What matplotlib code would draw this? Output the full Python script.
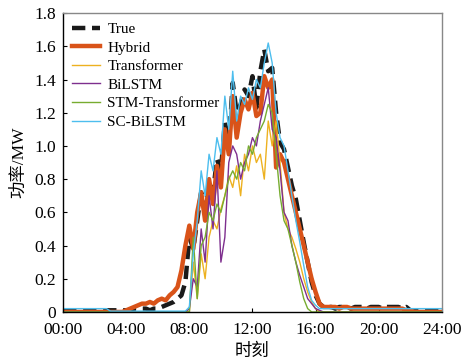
import numpy as np
import matplotlib
matplotlib.use("Agg")
import matplotlib.pyplot as plt

plt.rcParams['font.family'] = ['Liberation Serif', 'Noto Sans CJK SC']

# 15-min samples, 00:00 .. 24:00 (97 points)
hours = np.arange(97) * 0.25

true_vals = [0.01]*16 + [0.01, 0.01, 0.02, 0.02, 0.02, 0.02, 0.01, 0.02,
             0.02, 0.03, 0.04, 0.05, 0.06, 0.08, 0.10, 0.18,
             0.45, 0.38, 0.55, 0.72, 0.62, 0.78, 0.72, 0.92, 0.85, 1.14, 1.00, 1.38,
             1.20, 1.25, 1.34, 1.30, 1.42, 1.23, 1.45, 1.58, 1.45, 1.47, 1.20, 1.02,
             0.98, 0.87, 0.76, 0.68, 0.55, 0.42, 0.30, 0.18, 0.10, 0.05, 0.03,
             0.03, 0.03, 0.02, 0.03, 0.03, 0.03, 0.02, 0.03, 0.03, 0.03, 0.02,
             0.03, 0.03, 0.03, 0.02, 0.03, 0.03, 0.03, 0.03, 0.02, 0.03,
             0.01, 0.01, 0.01, 0.01, 0.01, 0.01, 0.01, 0.01, 0.01]

hybrid = [0.0]*16 + [0.01, 0.02, 0.03, 0.04, 0.05, 0.05, 0.06, 0.05,
          0.07, 0.08, 0.07, 0.10, 0.12, 0.15, 0.25, 0.40,
          0.52, 0.38, 0.60, 0.72, 0.55, 0.80, 0.65, 0.88, 0.75, 1.10, 0.95, 1.30,
          1.05, 1.20, 1.28, 1.22, 1.32, 1.18, 1.20, 1.42, 1.35, 1.40, 0.87, 0.95,
          0.90, 0.80, 0.70, 0.60, 0.50, 0.40, 0.30, 0.20, 0.12, 0.05, 0.03,
          0.03, 0.03, 0.03, 0.02, 0.03, 0.03, 0.02, 0.02, 0.02, 0.02, 0.02,
          0.02, 0.02, 0.02, 0.02, 0.02, 0.02, 0.02, 0.02, 0.02, 0.01,
          0.01, 0.0, 0.0, 0.0, 0.0, 0.0, 0.0, 0.0, 0.0]

transformer = [0.0]*32 + [0.0, 0.30, 0.08, 0.35, 0.20, 0.45, 0.55, 0.50, 0.62, 0.70, 0.82, 0.75,
               0.88, 0.70, 0.95, 0.85, 1.00, 0.90, 0.95, 0.80, 1.15, 1.00, 1.15, 0.90,
               0.60, 0.50, 0.45, 0.38, 0.30, 0.20, 0.12, 0.06, 0.02] + [0.0]*32

bilstm = [0.0]*32 + [0.02, 0.20, 0.15, 0.50, 0.30, 0.70, 0.50, 0.85, 0.30, 0.45, 0.90, 1.00,
          0.95, 0.80, 0.90, 0.95, 1.05, 1.00, 1.15, 1.25, 1.35, 1.10, 1.05, 0.85,
          0.60, 0.55, 0.40, 0.30, 0.22, 0.15, 0.08, 0.05, 0.02, 0.01] + [0.0]*31

stm_transformer = [0.0]*32 + [0.0, 0.45, 0.08, 0.40, 0.45, 0.60, 0.55, 0.65, 0.60, 0.70, 0.80, 0.85,
                   0.80, 0.90, 0.85, 1.00, 0.95, 1.05, 1.10, 1.15, 1.25, 1.20, 0.95, 0.70,
                   0.55, 0.50, 0.40, 0.30, 0.18, 0.08, 0.02] + [0.0]*34

sc_bilstm = [0.02]*12 + [0.005]*20 + [0.03, 0.35, 0.55, 0.85, 0.70, 0.95, 0.85, 1.05, 0.95, 1.30, 1.10, 1.45,
             1.15, 1.30, 1.25, 1.35, 1.28, 1.40, 1.35, 1.50, 1.62, 1.50, 1.20, 1.05,
             1.00, 0.85, 0.70, 0.55, 0.42, 0.28, 0.15, 0.07, 0.04] + [0.02]*32

fig = plt.figure(figsize=(4.71, 3.64), dpi=100)
ax = fig.add_axes([0.134, 0.143, 0.804, 0.821])

ax.plot(hours, true_vals, color='#1a1a1a', lw=3.2, ls=(0, (3, 1.5)), label='True')
ax.plot(hours, hybrid, color='#D95319', lw=3.2, label='Hybrid')
ax.plot(hours, transformer, color='#EDB120', lw=1.0, label='Transformer')
ax.plot(hours, bilstm, color='#7E2F8E', lw=1.0, label='BiLSTM')
ax.plot(hours, stm_transformer, color='#77AC30', lw=1.0, label='STM-Transformer')
ax.plot(hours, sc_bilstm, color='#4DBEEE', lw=1.0, label='SC-BiLSTM')

ax.set_xlim(0, 24)
ax.set_ylim(0, 1.8)
ax.set_xticks(np.arange(0, 25, 4))
ax.set_xticklabels(['00:00', '04:00', '08:00', '12:00', '16:00', '20:00', '24:00'])
ax.set_yticks(np.arange(0, 1.81, 0.2))
ax.set_yticklabels(['0', '0.2', '0.4', '0.6', '0.8', '1.0', '1.2', '1.4', '1.6', '1.8'])
ax.tick_params(direction='in', length=3, labelsize=12.5, top=False, right=False)
ax.tick_params(axis='x', pad=7)
ax.tick_params(axis='y', pad=5)
for s in ax.spines.values():
    s.set_linewidth(1.0)
ax.spines['right'].set_color('#888888')
ax.spines['top'].set_color('#888888')

ax.set_xlabel('时刻', fontsize=12.5, labelpad=4)
ax.set_ylabel('功率/MW', fontsize=12.5, labelpad=5)

ax.legend(loc='upper left', frameon=False, fontsize=11, handlelength=1.8,
          handletextpad=0.5, labelspacing=0.32, borderaxespad=0.2)

fig.savefig('out.png', dpi=100)
